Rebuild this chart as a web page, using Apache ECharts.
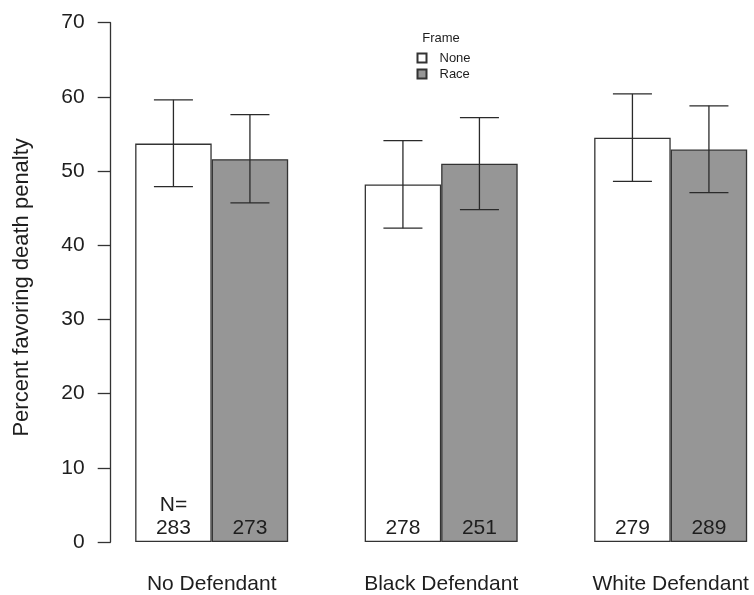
<!DOCTYPE html>
<html>
<head>
<meta charset="utf-8">
<script src="https://cdn.jsdelivr.net/npm/echarts@6/dist/echarts.min.js"></script>
<style>
html,body{margin:0;padding:0;background:#fff;}
#chart{width:754px;height:595px;}
</style>
</head>
<body>
<div id="chart"></div>
<script>
const categories = ['No Defendant', 'Black Defendant', 'White Defendant'];
const seriesNames = ['None', 'Race'];
const noneValues = [53.7, 48.2, 54.5];
const raceValues = [51.6, 51.0, 52.9];
const noneLow = [47.9, 42.3, 48.6];
const noneHigh = [59.6, 54.1, 60.4];
const raceLow = [45.7, 44.8, 47.1];
const raceHigh = [57.6, 57.2, 58.8];
const noneN = [283, 278, 279];
const raceN = [273, 251, 289];
const yTicks = [0, 10, 20, 30, 40, 50, 60, 70];

const FONT = '"Liberation Sans", Arial, Helvetica, sans-serif';
const TXT = '#1e1e1e';
const LINE = '#333333';

// R barplot layout: each group = 1 gap unit + 2 bars
const pos = (g, j) => 1.5 + 3 * g + j;
const groupCenters = categories.map((c, g) => 2 + 3 * g);

const noneData = noneValues.map((v, g) => [pos(g, 0), v]);
const raceData = raceValues.map((v, g) => [pos(g, 1), v]);
const errData = [];
categories.forEach((c, g) => {
  errData.push([pos(g, 0), noneLow[g], noneHigh[g]]);
  errData.push([pos(g, 1), raceLow[g], raceHigh[g]]);
});

// plot region: x from 0.68 (axis) at 110.7px, 76.5px per unit; canvas cut at right edge
const gridLeft = 110.7, unitPx = 76.5, xMin = 0.68;
const xMax = xMin + (754 - gridLeft) / unitPx;

const chart = echarts.init(document.getElementById('chart'), null, {renderer: 'canvas'});

function barLabel(counts, first) {
  return {
    show: true,
    position: 'insideBottom',
    distance: 3,
    fontFamily: FONT,
    fontSize: 21,
    lineHeight: 22.5,
    color: TXT,
    formatter: p => (first && p.dataIndex === 0 ? 'N=\n' : '') + counts[p.dataIndex]
  };
}

const option = {
  animation: false,
  backgroundColor: '#ffffff',
  textStyle: {fontFamily: FONT},
  title: {
    text: 'Frame',
    left: 436,
    top: 26.5,
    textAlign: 'center',
    textStyle: {fontFamily: FONT, fontSize: 13, fontWeight: 'normal', color: TXT}
  },
  legend: {
    data: seriesNames,
    orient: 'vertical',
    left: 411.5,
    top: 46,
    itemWidth: 9,
    itemHeight: 9,
    itemGap: 2,
    icon: 'rect',
    textStyle: {fontFamily: FONT, fontSize: 13, lineHeight: 14, color: TXT, padding: [0, 0, 0, 8]}
  },
  grid: {left: gridLeft, top: 22.7, bottom: 51.7, right: 0, containLabel: false},
  xAxis: {
    type: 'value',
    min: xMin,
    max: xMax,
    axisLine: {show: false},
    axisTick: {show: false},
    splitLine: {show: false},
    axisLabel: {
      customValues: groupCenters,
      formatter: v => categories[Math.round((v - 2) / 3)] || '',
      fontFamily: FONT,
      fontSize: 21,
      color: TXT,
      margin: 32
    }
  },
  yAxis: {
    type: 'value',
    min: 0,
    max: 70,
    interval: 10,
    name: 'Percent favoring death penalty',
    nameLocation: 'middle',
    nameGap: 78,
    nameTextStyle: {fontFamily: FONT, fontSize: 22, color: TXT, padding: [0, 10, 0, 0]},
    axisLine: {show: true, lineStyle: {color: LINE, width: 1.3}},
    axisTick: {show: true, length: 13, lineStyle: {color: LINE, width: 1.3}},
    splitLine: {show: false},
    axisLabel: {fontFamily: FONT, fontSize: 21, color: TXT, margin: 26}
  },
  series: [
    {
      name: 'None',
      type: 'bar',
      data: noneData,
      barWidth: unitPx,
      barGap: '-100%',
      itemStyle: {color: '#ffffff', borderColor: LINE, borderWidth: 1.3},
      label: barLabel(noneN, true),
      z: 2
    },
    {
      name: 'Race',
      type: 'bar',
      data: raceData,
      barWidth: unitPx,
      barGap: '-100%',
      itemStyle: {color: '#969696', borderColor: LINE, borderWidth: 1.3},
      label: barLabel(raceN, false),
      z: 2
    },
    {
      name: 'err',
      type: 'custom',
      data: errData,
      z: 5,
      silent: true,
      renderItem: function (params, api) {
        const x = api.value(0);
        const pLo = api.coord([x, api.value(1)]);
        const pHi = api.coord([x, api.value(2)]);
        const half = api.size([0.255, 0])[0];
        const st = {stroke: '#2a2a2a', lineWidth: 1.3, fill: null};
        return {
          type: 'group',
          children: [
            {type: 'line', shape: {x1: pLo[0], y1: pLo[1], x2: pHi[0], y2: pHi[1]}, style: st},
            {type: 'line', shape: {x1: pHi[0] - half, y1: pHi[1], x2: pHi[0] + half, y2: pHi[1]}, style: st},
            {type: 'line', shape: {x1: pLo[0] - half, y1: pLo[1], x2: pLo[0] + half, y2: pLo[1]}, style: st}
          ]
        };
      }
    }
  ]
};
chart.setOption(option);
</script>
</body>
</html>
